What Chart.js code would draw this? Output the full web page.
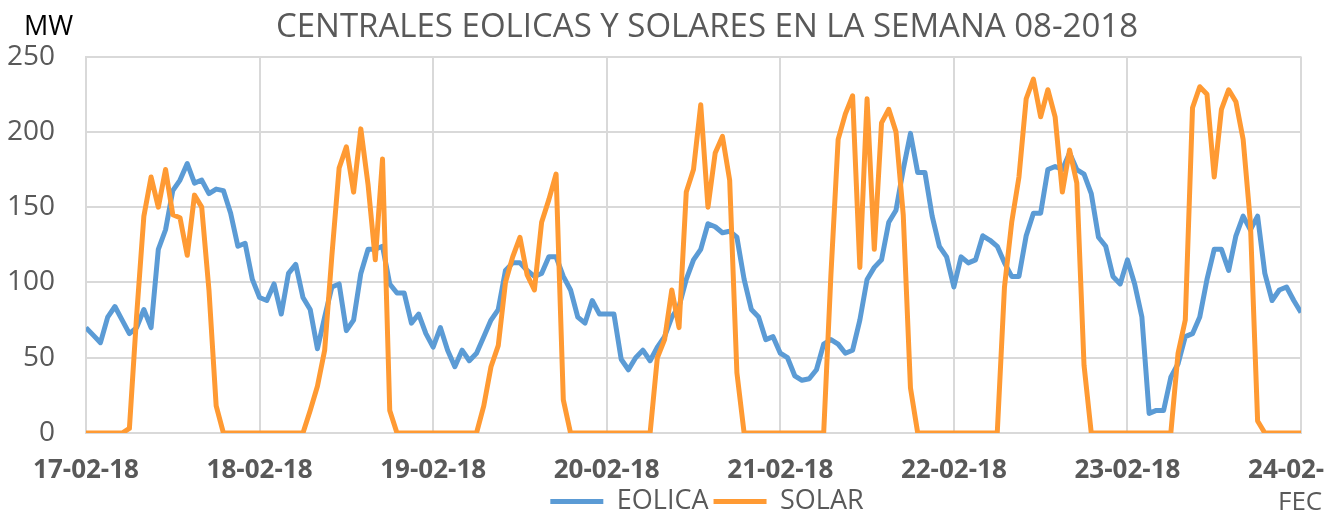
<!DOCTYPE html>
<html>
<head>
<meta charset="utf-8">
<title>Centrales eolicas y solares - semana 08-2018</title>
<script src="https://cdn.jsdelivr.net/npm/chart.js@4.4.0/dist/chart.umd.min.js"></script>
<style>
  html, body { margin: 0; padding: 0; overflow: hidden; background: #fff; }
  /* the original chart is wider than the window, so the right edge gets cut */
  #wrap { position: relative; width: 1414px; height: 525px; }
</style>
</head>
<body>
<div id="wrap"><canvas id="chart"></canvas></div>
<script>
// one label per day, hourly values (index 0 = 17-02-18 00:00, 168 = 24-02-18 00:00)
const dayLabels = ["17-02-18", "18-02-18", "19-02-18", "20-02-18", "21-02-18", "22-02-18", "23-02-18", "24-02-18"];

const eolica = [
    70, 65, 60, 77, 84, 75, 66, 70, 82, 70, 122, 135, 161, 168, 179, 166, 168, 159, 162, 161, 146, 124, 126, 102,
    90, 88, 99, 79, 106, 112, 90, 82, 56, 77, 97, 99, 68, 75, 106, 122, 122, 124, 99, 93, 93, 73, 79, 66,
    57, 70, 55, 44, 55, 48, 53, 64, 75, 82, 108, 113, 113, 108, 104, 106, 117, 117, 104, 95, 77, 73, 88, 79,
    79, 79, 49, 42, 50, 55, 48, 57, 64, 77, 84, 102, 115, 122, 139, 137, 133, 134, 130, 102, 82, 77, 62, 64,
    53, 50, 38, 35, 36, 42, 59, 62, 59, 53, 55, 75, 102, 110, 115, 140, 148, 175, 199, 173, 173, 144, 124, 117,
    97, 117, 113, 115, 131, 128, 124, 113, 104, 104, 131, 146, 146, 175, 177, 175, 186, 175, 172, 159, 130, 124, 104, 99,
    115, 99, 77, 13, 15, 15, 37, 46, 64, 66, 77, 102, 122, 122, 108, 131, 144, 135, 144, 106, 88, 95, 97, 88,
    80
];

const solar = [
    0, 0, 0, 0, 0, 0, 3, 78, 144, 170, 150, 175, 145, 143, 118, 158, 150, 95, 18, 0, 0, 0, 0, 0,
    0, 0, 0, 0, 0, 0, 0, 15, 31, 55, 118, 176, 190, 160, 202, 165, 115, 182, 15, 0, 0, 0, 0, 0,
    0, 0, 0, 0, 0, 0, 0, 18, 44, 58, 100, 117, 130, 105, 95, 140, 155, 172, 22, 0, 0, 0, 0, 0,
    0, 0, 0, 0, 0, 0, 0, 50, 62, 95, 70, 160, 175, 218, 150, 186, 197, 168, 40, 0, 0, 0, 0, 0,
    0, 0, 0, 0, 0, 0, 0, 105, 195, 212, 224, 110, 222, 122, 206, 215, 200, 145, 30, 0, 0, 0, 0, 0,
    0, 0, 0, 0, 0, 0, 0, 97, 140, 170, 222, 235, 210, 228, 210, 160, 188, 166, 45, 0, 0, 0, 0, 0,
    0, 0, 0, 0, 0, 0, 0, 53, 75, 216, 230, 225, 170, 215, 228, 220, 195, 140, 8, 0, 0, 0, 0, 0,
    0
];

const hours = eolica.map((v, i) => i);

Chart.defaults.font.family = '"Open Sans", sans-serif';

// "MW" above the value axis and the cut-off axis name at the bottom right
const extraText = {
    id: "extraText",
    afterDraw(chart) {
        const ctx = chart.ctx;
        ctx.save();
        ctx.textBaseline = "alphabetic";
        ctx.fillStyle = "#000000";
        ctx.font = '27px "Open Sans"';
        ctx.fillText("MW", 24, 35);
        ctx.fillStyle = "#595959";
        ctx.font = '26px "Open Sans"';
        ctx.fillText("FECHA", 1278, 510);
        ctx.restore();
    }
};

const gridColor = "#D9D9D9";

new Chart(document.getElementById("chart").getContext("2d"), {
    type: "line",
    data: {
        labels: hours,
        datasets: [{
            label: "EOLICA",
            data: eolica,
            borderColor: "#5B9BD5",
            backgroundColor: "#5B9BD5",
            borderWidth: 5,
            pointRadius: 0,
            pointStyle: "line",
            pointBorderWidth: 5,
            borderJoinStyle: "round",
            tension: 0,
            order: 1
        }, {
            label: "SOLAR",
            data: solar,
            borderColor: "#FF9A33",
            backgroundColor: "#FF9A33",
            borderWidth: 5,
            pointRadius: 0,
            pointStyle: "line",
            pointBorderWidth: 5,
            borderJoinStyle: "round",
            tension: 0,
            order: 0
        }]
    },
    options: {
        responsive: true,
        maintainAspectRatio: false,
        animation: false,
        layout: { padding: 0 },
        plugins: {
            title: {
                display: true,
                text: "CENTRALES EOLICAS Y SOLARES EN LA SEMANA 08-2018",
                color: "#595959",
                font: { size: 33, weight: "normal" },
                padding: { top: 8, bottom: 9 }
            },
            legend: {
                position: "bottom",
                labels: {
                    usePointStyle: true,
                    pointStyleWidth: 53,
                    color: "#595959",
                    font: { size: 27 },
                    padding: 5,
                    sort: (a, b) => a.datasetIndex - b.datasetIndex
                }
            },
            tooltip: { enabled: false }
        },
        scales: {
            x: {
                type: "linear",
                min: 0,
                max: 168,
                grid: { color: gridColor, lineWidth: 2, drawTicks: false },
                border: { color: gridColor, width: 2 },
                ticks: {
                    stepSize: 24,
                    autoSkip: false,
                    maxRotation: 0,
                    padding: 22,
                    color: "#595959",
                    font: { size: 26, weight: "bold" },
                    callback: v => dayLabels[v / 24]
                },
                // fixed band for the date labels, and room on the right like the original (wider) chart
                afterFit: s => {
                    s.height = 50;
                    s.paddingRight = 113;
                }
            },
            y: {
                min: 0,
                max: 250,
                grid: { color: gridColor, lineWidth: 2, drawTicks: false },
                border: { color: gridColor, width: 2 },
                ticks: {
                    stepSize: 50,
                    padding: 31,
                    color: "#595959",
                    font: { size: 28 }
                },
                afterFit: s => { s.width = 86; }
            }
        }
    },
    plugins: [extraText]
});
</script>
</body>
</html>
